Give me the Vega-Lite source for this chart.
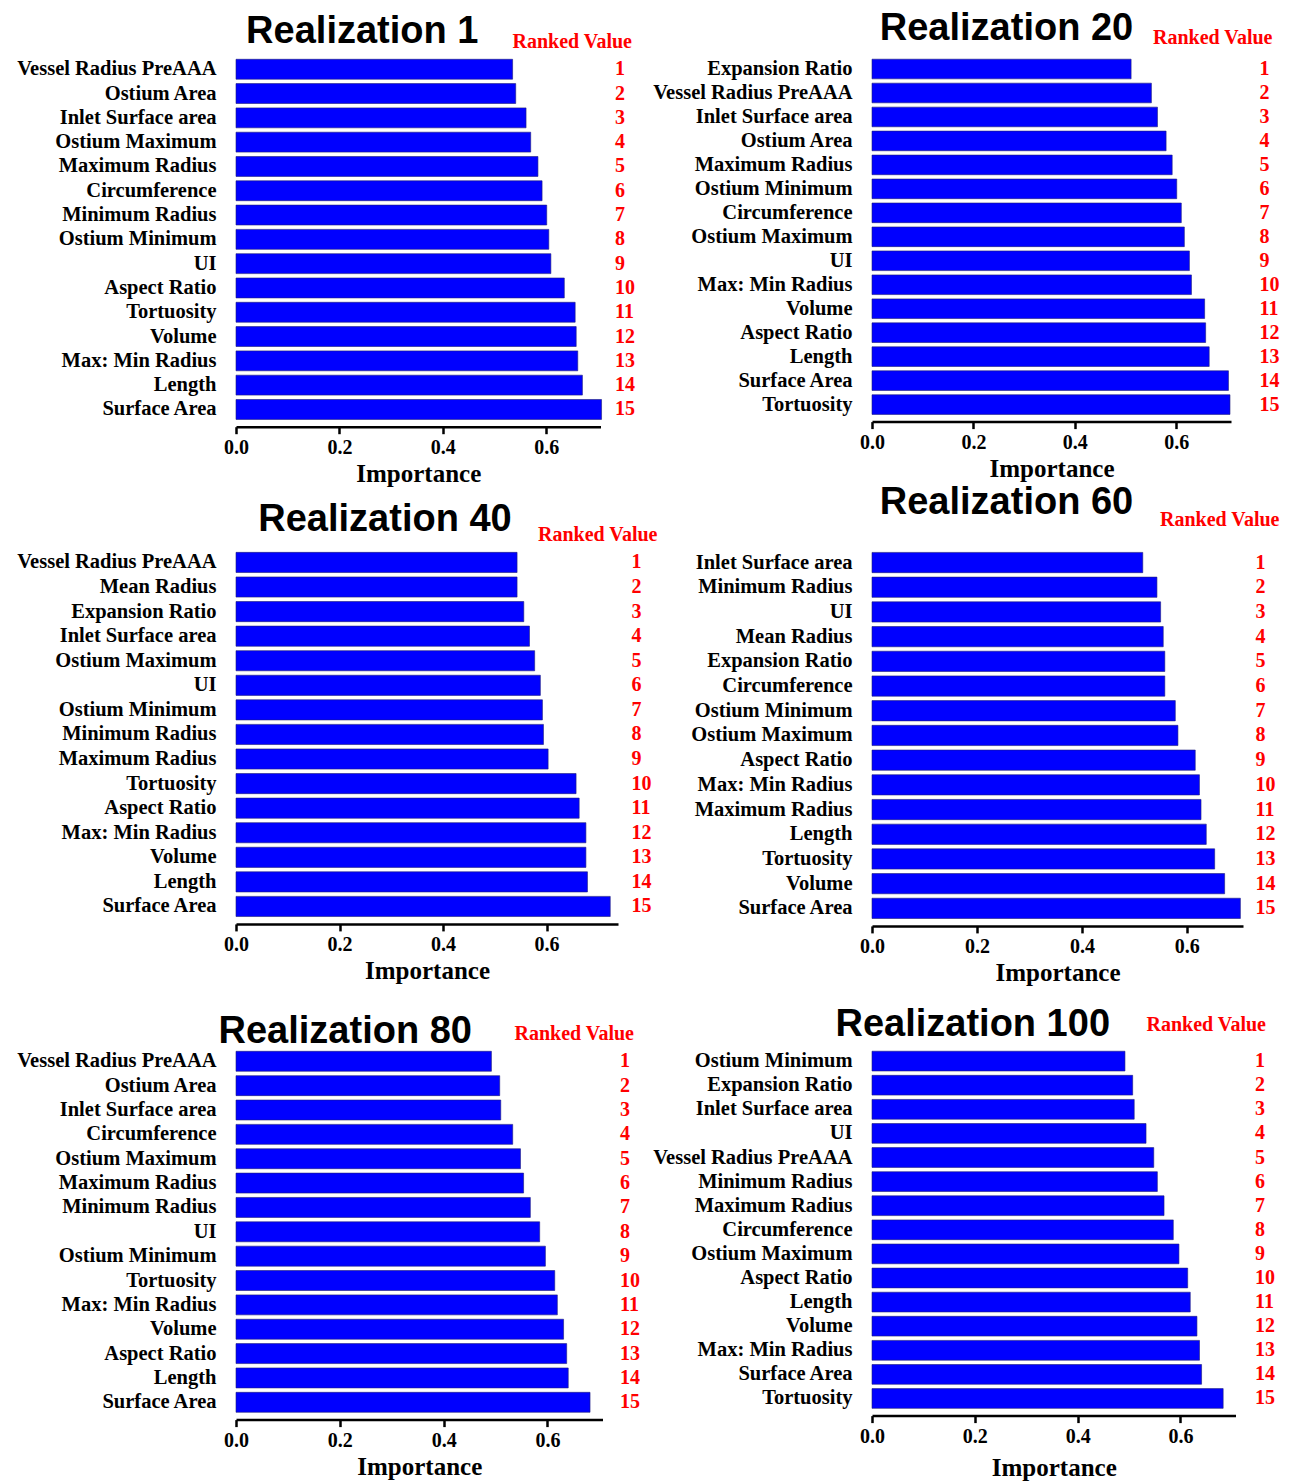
{
  "$schema": "https://vega.github.io/schema/vega-lite/v6.json",
  "autosize": {"type": "none"},
  "padding": {"left": 236, "top": 52, "right": 1059, "bottom": 1430},
  "background": "white",
  "data": {"values": [
    {"realization": "Realization 1", "rank": 1, "feature": "Vessel Radius PreAAA", "importance": 0.535},
    {"realization": "Realization 1", "rank": 2, "feature": "Ostium Area", "importance": 0.541},
    {"realization": "Realization 1", "rank": 3, "feature": "Inlet Surface area", "importance": 0.561},
    {"realization": "Realization 1", "rank": 4, "feature": "Ostium Maximum", "importance": 0.570},
    {"realization": "Realization 1", "rank": 5, "feature": "Maximum Radius", "importance": 0.584},
    {"realization": "Realization 1", "rank": 6, "feature": "Circumference", "importance": 0.592},
    {"realization": "Realization 1", "rank": 7, "feature": "Minimum Radius", "importance": 0.601},
    {"realization": "Realization 1", "rank": 8, "feature": "Ostium Minimum", "importance": 0.605},
    {"realization": "Realization 1", "rank": 9, "feature": "UI", "importance": 0.609},
    {"realization": "Realization 1", "rank": 10, "feature": "Aspect Ratio", "importance": 0.635},
    {"realization": "Realization 1", "rank": 11, "feature": "Tortuosity", "importance": 0.656},
    {"realization": "Realization 1", "rank": 12, "feature": "Volume", "importance": 0.658},
    {"realization": "Realization 1", "rank": 13, "feature": "Max: Min Radius", "importance": 0.661},
    {"realization": "Realization 1", "rank": 14, "feature": "Length", "importance": 0.670},
    {"realization": "Realization 1", "rank": 15, "feature": "Surface Area", "importance": 0.707},
    {"realization": "Realization 20", "rank": 1, "feature": "Expansion Ratio", "importance": 0.511},
    {"realization": "Realization 20", "rank": 2, "feature": "Vessel Radius PreAAA", "importance": 0.551},
    {"realization": "Realization 20", "rank": 3, "feature": "Inlet Surface area", "importance": 0.563},
    {"realization": "Realization 20", "rank": 4, "feature": "Ostium Area", "importance": 0.580},
    {"realization": "Realization 20", "rank": 5, "feature": "Maximum Radius", "importance": 0.592},
    {"realization": "Realization 20", "rank": 6, "feature": "Ostium Minimum", "importance": 0.601},
    {"realization": "Realization 20", "rank": 7, "feature": "Circumference", "importance": 0.610},
    {"realization": "Realization 20", "rank": 8, "feature": "Ostium Maximum", "importance": 0.616},
    {"realization": "Realization 20", "rank": 9, "feature": "UI", "importance": 0.626},
    {"realization": "Realization 20", "rank": 10, "feature": "Max: Min Radius", "importance": 0.630},
    {"realization": "Realization 20", "rank": 11, "feature": "Volume", "importance": 0.656},
    {"realization": "Realization 20", "rank": 12, "feature": "Aspect Ratio", "importance": 0.658},
    {"realization": "Realization 20", "rank": 13, "feature": "Length", "importance": 0.665},
    {"realization": "Realization 20", "rank": 14, "feature": "Surface Area", "importance": 0.703},
    {"realization": "Realization 20", "rank": 15, "feature": "Tortuosity", "importance": 0.706},
    {"realization": "Realization 40", "rank": 1, "feature": "Vessel Radius PreAAA", "importance": 0.543},
    {"realization": "Realization 40", "rank": 2, "feature": "Mean Radius", "importance": 0.543},
    {"realization": "Realization 40", "rank": 3, "feature": "Expansion Ratio", "importance": 0.556},
    {"realization": "Realization 40", "rank": 4, "feature": "Inlet Surface area", "importance": 0.567},
    {"realization": "Realization 40", "rank": 5, "feature": "Ostium Maximum", "importance": 0.577},
    {"realization": "Realization 40", "rank": 6, "feature": "UI", "importance": 0.588},
    {"realization": "Realization 40", "rank": 7, "feature": "Ostium Minimum", "importance": 0.592},
    {"realization": "Realization 40", "rank": 8, "feature": "Minimum Radius", "importance": 0.594},
    {"realization": "Realization 40", "rank": 9, "feature": "Maximum Radius", "importance": 0.603},
    {"realization": "Realization 40", "rank": 10, "feature": "Tortuosity", "importance": 0.657},
    {"realization": "Realization 40", "rank": 11, "feature": "Aspect Ratio", "importance": 0.663},
    {"realization": "Realization 40", "rank": 12, "feature": "Max: Min Radius", "importance": 0.676},
    {"realization": "Realization 40", "rank": 13, "feature": "Volume", "importance": 0.676},
    {"realization": "Realization 40", "rank": 14, "feature": "Length", "importance": 0.679},
    {"realization": "Realization 40", "rank": 15, "feature": "Surface Area", "importance": 0.723},
    {"realization": "Realization 60", "rank": 1, "feature": "Inlet Surface area", "importance": 0.516},
    {"realization": "Realization 60", "rank": 2, "feature": "Minimum Radius", "importance": 0.543},
    {"realization": "Realization 60", "rank": 3, "feature": "UI", "importance": 0.550},
    {"realization": "Realization 60", "rank": 4, "feature": "Mean Radius", "importance": 0.555},
    {"realization": "Realization 60", "rank": 5, "feature": "Expansion Ratio", "importance": 0.558},
    {"realization": "Realization 60", "rank": 6, "feature": "Circumference", "importance": 0.558},
    {"realization": "Realization 60", "rank": 7, "feature": "Ostium Minimum", "importance": 0.578},
    {"realization": "Realization 60", "rank": 8, "feature": "Ostium Maximum", "importance": 0.583},
    {"realization": "Realization 60", "rank": 9, "feature": "Aspect Ratio", "importance": 0.616},
    {"realization": "Realization 60", "rank": 10, "feature": "Max: Min Radius", "importance": 0.624},
    {"realization": "Realization 60", "rank": 11, "feature": "Maximum Radius", "importance": 0.627},
    {"realization": "Realization 60", "rank": 12, "feature": "Length", "importance": 0.637},
    {"realization": "Realization 60", "rank": 13, "feature": "Tortuosity", "importance": 0.653},
    {"realization": "Realization 60", "rank": 14, "feature": "Volume", "importance": 0.672},
    {"realization": "Realization 60", "rank": 15, "feature": "Surface Area", "importance": 0.702},
    {"realization": "Realization 80", "rank": 1, "feature": "Vessel Radius PreAAA", "importance": 0.492},
    {"realization": "Realization 80", "rank": 2, "feature": "Ostium Area", "importance": 0.508},
    {"realization": "Realization 80", "rank": 3, "feature": "Inlet Surface area", "importance": 0.510},
    {"realization": "Realization 80", "rank": 4, "feature": "Circumference", "importance": 0.533},
    {"realization": "Realization 80", "rank": 5, "feature": "Ostium Maximum", "importance": 0.548},
    {"realization": "Realization 80", "rank": 6, "feature": "Maximum Radius", "importance": 0.554},
    {"realization": "Realization 80", "rank": 7, "feature": "Minimum Radius", "importance": 0.567},
    {"realization": "Realization 80", "rank": 8, "feature": "UI", "importance": 0.585},
    {"realization": "Realization 80", "rank": 9, "feature": "Ostium Minimum", "importance": 0.596},
    {"realization": "Realization 80", "rank": 10, "feature": "Tortuosity", "importance": 0.614},
    {"realization": "Realization 80", "rank": 11, "feature": "Max: Min Radius", "importance": 0.619},
    {"realization": "Realization 80", "rank": 12, "feature": "Volume", "importance": 0.631},
    {"realization": "Realization 80", "rank": 13, "feature": "Aspect Ratio", "importance": 0.637},
    {"realization": "Realization 80", "rank": 14, "feature": "Length", "importance": 0.640},
    {"realization": "Realization 80", "rank": 15, "feature": "Surface Area", "importance": 0.682},
    {"realization": "Realization 100", "rank": 1, "feature": "Ostium Minimum", "importance": 0.492},
    {"realization": "Realization 100", "rank": 2, "feature": "Expansion Ratio", "importance": 0.507},
    {"realization": "Realization 100", "rank": 3, "feature": "Inlet Surface area", "importance": 0.510},
    {"realization": "Realization 100", "rank": 4, "feature": "UI", "importance": 0.533},
    {"realization": "Realization 100", "rank": 5, "feature": "Vessel Radius PreAAA", "importance": 0.548},
    {"realization": "Realization 100", "rank": 6, "feature": "Minimum Radius", "importance": 0.555},
    {"realization": "Realization 100", "rank": 7, "feature": "Maximum Radius", "importance": 0.568},
    {"realization": "Realization 100", "rank": 8, "feature": "Circumference", "importance": 0.586},
    {"realization": "Realization 100", "rank": 9, "feature": "Ostium Maximum", "importance": 0.597},
    {"realization": "Realization 100", "rank": 10, "feature": "Aspect Ratio", "importance": 0.614},
    {"realization": "Realization 100", "rank": 11, "feature": "Length", "importance": 0.619},
    {"realization": "Realization 100", "rank": 12, "feature": "Volume", "importance": 0.632},
    {"realization": "Realization 100", "rank": 13, "feature": "Max: Min Radius", "importance": 0.637},
    {"realization": "Realization 100", "rank": 14, "feature": "Surface Area", "importance": 0.641},
    {"realization": "Realization 100", "rank": 15, "feature": "Tortuosity", "importance": 0.683}
  ]},
  "columns": 2,
  "bounds": "flush",
  "spacing": {"row": 118, "column": 254},
  "concat": [
    {
      "width": 364.5, "height": 374.7,
      "title": {"text": "Realization 1", "dx": -56, "offset": -20},
      "transform": [{"filter": "datum.realization === 'Realization 1'"}],
      "layer": [
        {"mark": {"type": "bar", "fill": "#0000ff", "stroke": "#1c1c7a", "strokeWidth": 0.6},
         "encoding": {
           "y": {"field": "feature", "type": "nominal", "sort": {"field": "rank", "op": "min", "order": "ascending"}, "scale": {"paddingInner": 0.18, "paddingOuter": 0.3}, "axis": {"orient": "left"}},
           "x": {"field": "importance", "type": "quantitative", "scale": {"domain": [0, 0.705], "nice": false, "zero": true}, "axis": {"title": "Importance", "values": [0, 0.2, 0.4, 0.6], "format": ".1f"}}
         }},
        {"mark": {"type": "bar", "opacity": 0},
         "encoding": {
           "y": {"field": "rank", "type": "ordinal", "scale": {"paddingInner": 0.18, "paddingOuter": 0.3}, "axis": {"orient": "right", "title": "Ranked Value", "titleX": 31, "titleY": -5, "labelPadding": 14}},
           "x": {"field": "importance", "type": "quantitative"}
         }}
      ],
      "resolve": {"scale": {"y": "independent"}, "axis": {"y": "independent"}}
    },
    {
      "width": 359, "height": 369.6,
      "title": {"text": "Realization 20", "dx": -45, "offset": -21},
      "transform": [{"filter": "datum.realization === 'Realization 20'"}],
      "layer": [
        {"mark": {"type": "bar", "fill": "#0000ff", "stroke": "#1c1c7a", "strokeWidth": 0.6},
         "encoding": {
           "y": {"field": "feature", "type": "nominal", "sort": {"field": "rank", "op": "min", "order": "ascending"}, "scale": {"paddingInner": 0.18, "paddingOuter": 0.3}, "axis": {"orient": "left"}},
           "x": {"field": "importance", "type": "quantitative", "scale": {"domain": [0, 0.708], "nice": false, "zero": true}, "axis": {"title": "Importance", "values": [0, 0.2, 0.4, 0.6], "format": ".1f"}}
         }},
        {"mark": {"type": "bar", "opacity": 0},
         "encoding": {
           "y": {"field": "rank", "type": "ordinal", "scale": {"paddingInner": 0.18, "paddingOuter": 0.3}, "axis": {"orient": "right", "title": "Ranked Value", "titleX": 41, "titleY": -9, "labelPadding": 28}},
           "x": {"field": "importance", "type": "quantitative"}
         }}
      ],
      "resolve": {"scale": {"y": "independent"}, "axis": {"y": "independent"}}
    },
    {
      "width": 382, "height": 378.9,
      "title": {"text": "Realization 40", "dx": -42, "offset": -15},
      "transform": [{"filter": "datum.realization === 'Realization 40'"}],
      "layer": [
        {"mark": {"type": "bar", "fill": "#0000ff", "stroke": "#1c1c7a", "strokeWidth": 0.6},
         "encoding": {
           "y": {"field": "feature", "type": "nominal", "sort": {"field": "rank", "op": "min", "order": "ascending"}, "scale": {"paddingInner": 0.18, "paddingOuter": 0.3}, "axis": {"orient": "left"}},
           "x": {"field": "importance", "type": "quantitative", "scale": {"domain": [0, 0.738], "nice": false, "zero": true}, "axis": {"title": "Importance", "values": [0, 0.2, 0.4, 0.6], "format": ".1f"}}
         }},
        {"mark": {"type": "bar", "opacity": 0},
         "encoding": {
           "y": {"field": "rank", "type": "ordinal", "scale": {"paddingInner": 0.18, "paddingOuter": 0.3}, "axis": {"orient": "right", "title": "Ranked Value", "titleX": 39, "titleY": -5, "labelPadding": 13}},
           "x": {"field": "importance", "type": "quantitative"}
         }}
      ],
      "resolve": {"scale": {"y": "independent"}, "axis": {"y": "independent"}}
    },
    {
      "width": 371, "height": 380.9,
      "title": {"text": "Realization 60", "dx": -51, "offset": -13},
      "transform": [{"filter": "datum.realization === 'Realization 60'"}],
      "layer": [
        {"mark": {"type": "bar", "fill": "#0000ff", "stroke": "#1c1c7a", "strokeWidth": 0.6},
         "encoding": {
           "y": {"field": "feature", "type": "nominal", "sort": {"field": "rank", "op": "min", "order": "ascending"}, "scale": {"paddingInner": 0.18, "paddingOuter": 0.3}, "axis": {"orient": "left"}},
           "x": {"field": "importance", "type": "quantitative", "scale": {"domain": [0, 0.707], "nice": false, "zero": true}, "axis": {"title": "Importance", "values": [0, 0.2, 0.4, 0.6], "format": ".1f"}}
         }},
        {"mark": {"type": "bar", "opacity": 0},
         "encoding": {
           "y": {"field": "rank", "type": "ordinal", "scale": {"paddingInner": 0.18, "paddingOuter": 0.3}, "axis": {"orient": "right", "title": "Ranked Value", "titleX": 36, "titleY": -20, "labelPadding": 12}},
           "x": {"field": "importance", "type": "quantitative"}
         }}
      ],
      "resolve": {"scale": {"y": "independent"}, "axis": {"y": "independent"}}
    },
    {
      "width": 366.5, "height": 375.6,
      "title": {"text": "Realization 80", "dx": -74, "offset": -28},
      "transform": [{"filter": "datum.realization === 'Realization 80'"}],
      "layer": [
        {"mark": {"type": "bar", "fill": "#0000ff", "stroke": "#1c1c7a", "strokeWidth": 0.6},
         "encoding": {
           "y": {"field": "feature", "type": "nominal", "sort": {"field": "rank", "op": "min", "order": "ascending"}, "scale": {"paddingInner": 0.18, "paddingOuter": 0.3}, "axis": {"orient": "left"}},
           "x": {"field": "importance", "type": "quantitative", "scale": {"domain": [0, 0.706], "nice": false, "zero": true}, "axis": {"title": "Importance", "values": [0, 0.2, 0.4, 0.6], "format": ".1f"}}
         }},
        {"mark": {"type": "bar", "opacity": 0},
         "encoding": {
           "y": {"field": "rank", "type": "ordinal", "scale": {"paddingInner": 0.18, "paddingOuter": 0.3}, "axis": {"orient": "right", "title": "Ranked Value", "titleX": 31, "titleY": -5, "labelPadding": 17}},
           "x": {"field": "importance", "type": "quantitative"}
         }}
      ],
      "resolve": {"scale": {"y": "independent"}, "axis": {"y": "independent"}}
    },
    {
      "width": 363.5, "height": 371.6,
      "title": {"text": "Realization 100", "dx": -81, "offset": -30},
      "transform": [{"filter": "datum.realization === 'Realization 100'"}],
      "layer": [
        {"mark": {"type": "bar", "fill": "#0000ff", "stroke": "#1c1c7a", "strokeWidth": 0.6},
         "encoding": {
           "y": {"field": "feature", "type": "nominal", "sort": {"field": "rank", "op": "min", "order": "ascending"}, "scale": {"paddingInner": 0.18, "paddingOuter": 0.3}, "axis": {"orient": "left"}},
           "x": {"field": "importance", "type": "quantitative", "scale": {"domain": [0, 0.707], "nice": false, "zero": true}, "axis": {"title": "Importance", "values": [0, 0.2, 0.4, 0.6], "format": ".1f", "titlePadding": 9}}
         }},
        {"mark": {"type": "bar", "opacity": 0},
         "encoding": {
           "y": {"field": "rank", "type": "ordinal", "scale": {"paddingInner": 0.18, "paddingOuter": 0.3}, "axis": {"orient": "right", "title": "Ranked Value", "titleX": 30, "titleY": -14, "labelPadding": 19}},
           "x": {"field": "importance", "type": "quantitative"}
         }}
      ],
      "resolve": {"scale": {"y": "independent"}, "axis": {"y": "independent"}}
    }
  ],
  "config": {
    "view": {"stroke": null},
    "title": {"font": "Liberation Sans", "fontSize": 38, "fontWeight": "bold", "color": "black", "anchor": "middle", "frame": "group", "baseline": "alphabetic"},
    "axis": {"grid": false, "labelFont": "Liberation Serif", "labelFontWeight": "bold", "labelColor": "black", "titleFont": "Liberation Serif", "titleFontWeight": "bold", "titleColor": "black", "labelOverlap": false, "labelLimit": 400},
    "axisX": {"domainColor": "black", "domainWidth": 2.5, "tickColor": "black", "tickWidth": 2.5, "tickSize": 7, "labelPadding": 4, "labelFontSize": 20, "labelFlush": false, "titleFontSize": 25, "titlePadding": 4},
    "axisLeft": {"title": null, "ticks": false, "domain": false, "labelPadding": 20, "labelFontSize": 20.5, "labelAlign": "right"},
    "axisRight": {"ticks": false, "domain": false, "labelFontSize": 20, "labelAlign": "left", "labelColor": "#ff0000", "titleColor": "#ff0000", "titleFontSize": 20, "titleAngle": 0, "titleAlign": "right", "titleBaseline": "alphabetic"}
  }
}
